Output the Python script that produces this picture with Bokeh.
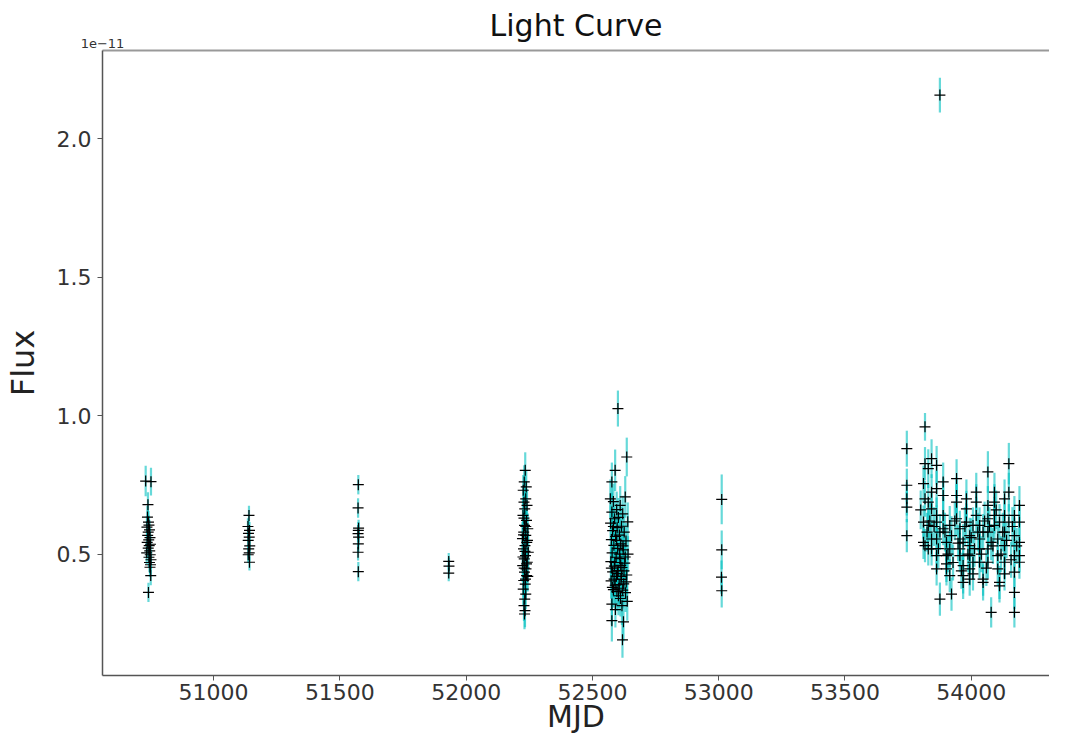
from bokeh.plotting import figure
from bokeh.models import (ColumnDataSource, Range1d, FixedTicker, NumeralTickFormatter,
                          LinearAxis, CustomJSTickFormatter)
from bokeh.embed import file_html
from bokeh.resources import INLINE

# ---------------- data (flux in units of 1e-11) ----------------
# each row: (MJD, flux, flux error)
season_1997 = [
    (50731, 0.764, 0.055), (50752, 0.762, 0.050), (50740, 0.679, 0.045), (50738, 0.634, 0.040),
    (50742, 0.616, 0.040), (50744, 0.605, 0.035), (50736, 0.598, 0.040), (50746, 0.588, 0.035),
    (50741, 0.580, 0.035), (50739, 0.568, 0.040), (50748, 0.560, 0.035), (50743, 0.552, 0.035),
    (50737, 0.543, 0.040), (50750, 0.536, 0.035), (50745, 0.531, 0.035), (50741, 0.522, 0.035),
    (50747, 0.512, 0.035), (50735, 0.505, 0.040), (50749, 0.498, 0.035), (50744, 0.489, 0.035),
    (50752, 0.480, 0.035), (50746, 0.470, 0.035), (50750, 0.462, 0.035), (50748, 0.453, 0.035),
    (50751, 0.423, 0.035), (50742, 0.362, 0.035),
]
season_1998 = [
    (51140, 0.640, 0.035), (51136, 0.600, 0.030), (51142, 0.586, 0.030), (51138, 0.575, 0.030),
    (51141, 0.562, 0.030), (51137, 0.550, 0.030), (51143, 0.530, 0.030), (51139, 0.519, 0.030),
    (51141, 0.505, 0.030), (51137, 0.498, 0.030), (51142, 0.471, 0.030),
]
season_2000a = [
    (51573, 0.751, 0.035), (51572, 0.667, 0.035), (51574, 0.594, 0.030), (51573, 0.586, 0.030),
    (51572, 0.574, 0.030), (51574, 0.562, 0.030), (51573, 0.537, 0.030), (51572, 0.507, 0.030),
    (51573, 0.437, 0.035),
]
season_2000b = [
    (51931, 0.474, 0.030), (51932, 0.457, 0.030), (51931, 0.432, 0.030),
]
season_2001 = [
    (52234, 0.803, 0.065), (52230, 0.761, 0.060), (52238, 0.743, 0.060), (52226, 0.731, 0.055),
    (52236, 0.700, 0.060), (52229, 0.688, 0.055), (52241, 0.676, 0.060), (52232, 0.664, 0.055),
    (52225, 0.640, 0.060), (52239, 0.622, 0.055), (52231, 0.604, 0.060), (52244, 0.592, 0.055),
    (52228, 0.580, 0.060), (52236, 0.568, 0.055), (52223, 0.556, 0.060), (52240, 0.543, 0.055),
    (52233, 0.531, 0.060), (52227, 0.519, 0.055), (52246, 0.507, 0.060), (52235, 0.495, 0.055),
    (52230, 0.483, 0.060), (52242, 0.471, 0.055), (52224, 0.459, 0.060), (52237, 0.447, 0.055),
    (52231, 0.435, 0.060), (52239, 0.423, 0.055), (52228, 0.405, 0.060), (52234, 0.392, 0.055),
    (52226, 0.374, 0.060), (52236, 0.356, 0.055), (52232, 0.338, 0.060), (52229, 0.314, 0.055),
    (52233, 0.296, 0.060), (52231, 0.284, 0.055),
    (52236, 0.600, 0.060), (52227, 0.570, 0.055), (52243, 0.550, 0.060), (52233, 0.510, 0.055),
    (52225, 0.490, 0.060), (52239, 0.465, 0.055), (52230, 0.450, 0.060), (52244, 0.420, 0.055),
    (52235, 0.410, 0.060), (52229, 0.630, 0.055),
]
season_2002 = [
    (52601, 1.026, 0.065), (52636, 0.851, 0.070), (52590, 0.803, 0.075), (52577, 0.761, 0.070),
    (52630, 0.707, 0.075), (52571, 0.700, 0.070), (52583, 0.690, 0.065), (52610, 0.676, 0.070),
    (52596, 0.661, 0.065), (52577, 0.652, 0.070), (52620, 0.646, 0.065), (52603, 0.633, 0.070),
    (52588, 0.628, 0.065), (52640, 0.617, 0.070), (52572, 0.612, 0.065), (52615, 0.601, 0.070),
    (52598, 0.596, 0.065), (52580, 0.585, 0.070), (52626, 0.580, 0.065), (52607, 0.569, 0.070),
    (52592, 0.564, 0.065), (52575, 0.553, 0.070), (52633, 0.548, 0.065), (52612, 0.537, 0.070),
    (52585, 0.532, 0.065), (52600, 0.521, 0.070), (52622, 0.516, 0.065), (52578, 0.505, 0.070),
    (52641, 0.500, 0.065), (52594, 0.489, 0.070), (52609, 0.484, 0.065), (52573, 0.473, 0.070),
    (52628, 0.468, 0.065), (52587, 0.457, 0.070), (52617, 0.452, 0.065), (52602, 0.441, 0.070),
    (52580, 0.436, 0.065), (52636, 0.425, 0.070), (52595, 0.420, 0.065), (52613, 0.409, 0.070),
    (52574, 0.404, 0.065), (52624, 0.393, 0.070), (52590, 0.388, 0.065), (52605, 0.377, 0.070),
    (52583, 0.372, 0.065), (52631, 0.361, 0.070), (52603, 0.350, 0.070), (52577, 0.320, 0.075),
    (52617, 0.314, 0.070), (52577, 0.260, 0.075), (52623, 0.256, 0.070), (52619, 0.191, 0.065),
    (52583, 0.600, 0.070), (52596, 0.550, 0.065), (52621, 0.530, 0.070), (52608, 0.500, 0.065),
    (52630, 0.490, 0.070), (52589, 0.470, 0.065), (52612, 0.460, 0.070), (52575, 0.450, 0.065),
    (52625, 0.440, 0.070), (52599, 0.430, 0.065), (52615, 0.420, 0.070), (52586, 0.410, 0.065),
    (52634, 0.400, 0.070), (52606, 0.390, 0.065), (52579, 0.380, 0.070), (52620, 0.370, 0.065),
    (52597, 0.365, 0.070), (52611, 0.340, 0.065), (52638, 0.330, 0.070), (52591, 0.300, 0.065),
]
season_2003 = [
    (53012, 0.698, 0.090), (53012, 0.516, 0.070), (53011, 0.417, 0.060), (53012, 0.368, 0.060),
]
season_2006 = [
    (53876, 2.158, 0.063),
    (53745, 0.881, 0.065), (53745, 0.749, 0.060), (53745, 0.700, 0.060), (53745, 0.670, 0.055),
    (53745, 0.567, 0.060),
    (53811, 0.755, 0.065), (53811, 0.616, 0.060), (53811, 0.543, 0.060),
    (53817, 0.960, 0.050), (53817, 0.827, 0.060), (53817, 0.700, 0.065), (53817, 0.531, 0.060),
    (53830, 0.809, 0.070), (53830, 0.688, 0.065), (53830, 0.604, 0.060), (53830, 0.519, 0.060),
    (53843, 0.845, 0.070), (53843, 0.724, 0.065), (53843, 0.664, 0.060), (53843, 0.555, 0.065),
    (53843, 0.519, 0.060),
    (53863, 0.821, 0.070), (53863, 0.737, 0.065), (53863, 0.640, 0.065), (53863, 0.616, 0.060),
    (53863, 0.555, 0.065), (53863, 0.495, 0.060), (53863, 0.447, 0.060),
    (53876, 0.338, 0.060), (53876, 0.580, 0.065),
    (53889, 0.761, 0.070), (53889, 0.712, 0.065), (53889, 0.640, 0.065), (53889, 0.592, 0.060),
    (53902, 0.543, 0.065), (53902, 0.495, 0.060), (53902, 0.465, 0.065), (53902, 0.447, 0.060),
    (53915, 0.423, 0.060), (53915, 0.604, 0.070), (53915, 0.519, 0.065),
    (53922, 0.356, 0.060), (53922, 0.567, 0.070),
    (53942, 0.773, 0.070), (53942, 0.712, 0.065), (53942, 0.688, 0.065), (53942, 0.628, 0.060),
    (53955, 0.592, 0.065), (53955, 0.555, 0.060), (53955, 0.519, 0.065), (53955, 0.495, 0.060),
    (53968, 0.459, 0.060), (53968, 0.423, 0.065), (53968, 0.398, 0.060), (53968, 0.543, 0.065),
    (53981, 0.700, 0.070), (53981, 0.664, 0.065), (53981, 0.616, 0.065),
    (53994, 0.567, 0.065), (53994, 0.531, 0.060), (53994, 0.495, 0.065), (53994, 0.447, 0.060),
    (53994, 0.410, 0.060),
    (54007, 0.604, 0.065), (54007, 0.471, 0.060), (54007, 0.429, 0.060),
    (54020, 0.724, 0.070), (54020, 0.688, 0.065), (54020, 0.640, 0.065),
    (54033, 0.604, 0.065), (54033, 0.555, 0.060), (54033, 0.519, 0.065), (54033, 0.471, 0.060),
    (54047, 0.410, 0.060), (54047, 0.398, 0.065), (54047, 0.580, 0.065),
    (54066, 0.797, 0.075), (54066, 0.676, 0.070), (54066, 0.628, 0.065), (54066, 0.580, 0.065),
    (54066, 0.519, 0.060), (54066, 0.471, 0.060),
    (54079, 0.290, 0.055), (54079, 0.543, 0.065),
    (54092, 0.724, 0.070), (54092, 0.688, 0.065), (54092, 0.640, 0.065), (54092, 0.604, 0.060),
    (54105, 0.555, 0.065), (54105, 0.495, 0.060), (54105, 0.447, 0.060),
    (54112, 0.398, 0.060), (54112, 0.386, 0.060), (54112, 0.616, 0.065),
    (54132, 0.700, 0.070), (54132, 0.640, 0.065), (54132, 0.580, 0.065), (54132, 0.531, 0.060),
    (54132, 0.471, 0.060), (54132, 0.429, 0.060),
    (54149, 0.827, 0.075), (54149, 0.724, 0.070), (54149, 0.616, 0.065),
    (54171, 0.640, 0.070), (54171, 0.567, 0.065), (54171, 0.495, 0.060), (54171, 0.435, 0.060),
    (54171, 0.362, 0.060), (54171, 0.290, 0.055),
    (54191, 0.676, 0.070), (54191, 0.616, 0.065), (54191, 0.543, 0.065), (54191, 0.495, 0.060),
    (54191, 0.471, 0.060),
    (53853, 0.600, 0.070), (53870, 0.520, 0.070), (53896, 0.580, 0.070), (53908, 0.500, 0.065),
    (53928, 0.470, 0.065), (53935, 0.620, 0.070), (53948, 0.540, 0.065), (53961, 0.440, 0.065),
    (53975, 0.600, 0.070), (53987, 0.500, 0.065), (54000, 0.560, 0.070), (54013, 0.520, 0.065),
    (54026, 0.580, 0.070), (54040, 0.500, 0.065), (54053, 0.620, 0.070), (54060, 0.450, 0.065),
    (54072, 0.600, 0.070), (54086, 0.530, 0.065), (54099, 0.660, 0.070), (54118, 0.500, 0.065),
    (54125, 0.580, 0.070), (54140, 0.550, 0.065), (54158, 0.480, 0.065), (54163, 0.600, 0.070),
    (54180, 0.530, 0.065), (53800, 0.660, 0.070), (53825, 0.580, 0.070), (53836, 0.620, 0.070),
]

x_ticks = [51000, 51500, 52000, 52500, 53000, 53500, 54000]
y_ticks = [0.5, 1.0, 1.5, 2.0]
offset_text = "1e\u221211"

# ---------------- build ----------------
rows = (season_1997 + season_1998 + season_2000a + season_2000b + season_2001
        + season_2002 + season_2003 + season_2006)
mjd = [r[0] for r in rows]
flux = [r[1] for r in rows]
err = [r[2] for r in rows]
src = ColumnDataSource(dict(mjd=mjd, flux=flux,
                            lo=[f - e for f, e in zip(flux, err)],
                            hi=[f + e for f, e in zip(flux, err)]))

FONT = "DejaVu Sans"
X0, X1 = 50560, 54310
p = figure(width=1049, height=736, output_backend="svg", toolbar_location=None,
           x_range=Range1d(X0, X1), y_range=Range1d(0.062, 2.319),
           min_border_left=95, min_border_right=0, min_border_top=50, min_border_bottom=60,
           title="Light Curve")
p.outline_line_color = None
p.grid.visible = False
p.background_fill_color = "white"
p.border_fill_color = "white"

p.title.text_font = FONT
p.title.text_font_size = "30px"
p.title.text_font_style = "normal"
p.title.text_color = "#111111"
p.title.align = "center"
p.title.standoff = -14

for ax in (p.xaxis[0], p.yaxis[0]):
    ax.axis_line_color = "#555555"
    ax.axis_line_width = 1.5
    ax.major_tick_line_color = "#555555"
    ax.major_tick_out = 5
    ax.major_tick_in = 0
    ax.minor_tick_line_color = None
    ax.major_label_text_font = FONT
    ax.major_label_text_font_size = "22px"
    ax.major_label_text_color = "#333333"
    ax.axis_label_text_font = FONT
    ax.axis_label_text_font_size = "32px"
    ax.axis_label_text_font_style = "normal"
    ax.axis_label_text_color = "#222222"

p.xaxis.ticker = FixedTicker(ticks=x_ticks)
p.xaxis.formatter = NumeralTickFormatter(format="0")
p.xaxis.axis_label = "MJD"
p.xaxis.axis_label_text_font_size = "30px"
p.xaxis.major_label_standoff = 3
p.xaxis.axis_label_standoff = -4
p.yaxis.ticker = FixedTicker(ticks=y_ticks)
p.yaxis.formatter = NumeralTickFormatter(format="0.0")
p.yaxis.axis_label = "Flux"
p.yaxis.major_label_standoff = 6
p.yaxis.axis_label_standoff = 12

# top spine carrying the scale-offset text at its left end
top = LinearAxis(ticker=FixedTicker(ticks=[X0]),
                 formatter=CustomJSTickFormatter(code="return '%s'" % offset_text),
                 axis_line_color="#999999", axis_line_width=2,
                 major_tick_line_color=None, minor_tick_line_color=None,
                 major_tick_out=0, major_tick_in=0, major_label_standoff=3,
                 major_label_text_font=FONT, major_label_text_font_size="13px",
                 major_label_text_color="#333333", major_label_text_align="left")
p.add_layout(top, "above")

p.segment(x0="mjd", y0="lo", x1="mjd", y1="hi", source=src,
          line_color="#00bfbf", line_width=2.2, line_alpha=0.6)
p.scatter("mjd", "flux", source=src, marker="cross", size=11,
          line_color="black", line_width=1.2)

open("out.html", "w").write(file_html(p, INLINE))
